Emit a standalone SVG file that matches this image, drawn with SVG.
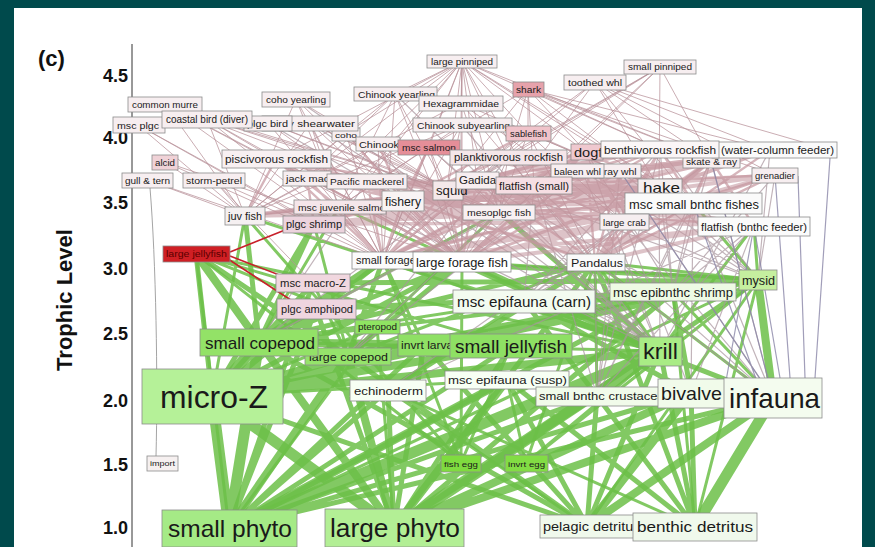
<svg xmlns="http://www.w3.org/2000/svg" width="875" height="547" viewBox="0 0 875 547">
<style>
.n rect{stroke:#8c8c8c;stroke-width:0.8}
.n text{font-family:"Liberation Sans",Arial,Helvetica,sans-serif;fill:#1a1a1a}
.ax{font-family:"Liberation Sans",Arial,Helvetica,sans-serif;font-weight:bold;fill:#111}
.g9{stroke:#6cbf48;stroke-width:11;stroke-opacity:.85;fill:none}
.g6{stroke:#6cbf48;stroke-width:8;stroke-opacity:.85;fill:none}
.g4{stroke:#6cbf48;stroke-width:5;stroke-opacity:.85;fill:none}
.g3{stroke:#6cbf48;stroke-width:3;stroke-opacity:.85;fill:none}
.m1{stroke:#b8929a;stroke-width:1;stroke-opacity:.75;fill:none}
.m2{stroke:#c4959e;stroke-width:2.4;stroke-opacity:.7;fill:none}
.m3{stroke:#c79ba4;stroke-width:4;stroke-opacity:.6;fill:none}
.mg{stroke:#a8949c;stroke-width:1.2;stroke-opacity:.7;fill:none}
.bl{stroke:#8a86a8;stroke-width:1.2;stroke-opacity:.8;fill:none}
.gy{stroke:#9a9a9a;stroke-width:.9;fill:none}
.rd{stroke:#c8202a;stroke-width:1.6;fill:none}
</style>
<rect x="0" y="0" width="875" height="547" fill="#004a4c"/>
<rect x="14" y="8" width="848" height="539" fill="#ffffff"/>
<text class="ax" x="38" y="66" font-size="22">(c)</text>
<g id="axis">
<path d="M132 44V547" stroke="#333" stroke-width="1" fill="none"/>
<g class="ax" font-size="18" text-anchor="end">
<text x="128" y="82">4.5</text>
<text x="128" y="144">4.0</text>
<text x="128" y="209">3.5</text>
<text x="128" y="275">3.0</text>
<text x="128" y="340">2.5</text>
<text x="128" y="407">2.0</text>
<text x="128" y="471">1.5</text>
<text x="128" y="534">1.0</text>
</g>
<text class="ax" font-size="22" transform="translate(72,300) rotate(-90)" text-anchor="middle">Trophic Level</text>
</g>
<g id="connectors">
<path class="g9" d="M229 528L212 396M394 528L212 396M229 528L259 342M212 396L259 342M394 528L660 351M695 527L773 398M229 528L660 351"/>
<path class="g6" d="M394 528L259 342M229 528L348 356M394 528L348 356M212 396L348 356M212 396L660 351M212 396L511 346M259 342L511 346M394 528L691 393M587 526L691 393M587 526L773 398M259 342L196 254M259 342L383 260M660 351L462 262M229 528L507 380M394 528L507 380M394 528L773 398M773 398L758 280"/>
<path class="g4" d="M212 396L196 254M348 356L196 254M259 342L314 224M212 396L314 224M259 342L245 216M348 356L383 260M660 351L383 260M259 342L313 283M212 396L316 309M229 528L424 345M394 528L424 345M212 396L424 345M229 528L691 393M229 528L773 398M695 527L691 393M587 526L507 380M587 526L660 351M587 526L212 396M229 528L388 390M394 528L388 390M394 528L758 280M212 396L758 280M695 527L597 396M587 526L597 396M348 356L511 346M660 351L499 212M259 342L462 262M597 396L524 301M773 398L524 301M394 528L597 396M229 528L673 292M394 528L673 292M229 528L511 346M394 528L511 346M587 526L259 342M587 526L348 356M695 527L507 380M695 527L660 351M587 526L424 345M229 528L597 396M394 528L595 262M229 528L316 309M394 528L316 309M229 528L313 283M212 396L313 283M212 396L383 260M212 396L462 262M212 396L673 292M259 342L595 262M348 356L673 292M348 356L462 262M695 527L595 262M691 393L673 292M691 393L524 301M388 390L595 262M383 260L758 280M316 309L673 292M313 283L758 280"/>
<path class="g3" d="M229 528L377 327M394 528L377 327M212 396L377 327M229 528L758 280M695 527L758 280M587 526L758 280M695 527L388 390M587 526L388 390M259 342L673 292M695 527L673 292M773 398L673 292M660 351L595 262M758 280L595 262M773 398L595 262M597 396L595 262M660 351L245 216M212 396L245 216M259 342L499 212M348 356L499 212M660 351L339 207M259 342L339 207M660 351L524 301M388 390L524 301M259 342L524 301M758 280L462 262M461 463L511 346M461 463L383 260M526 463L660 351M526 463L758 280M461 463L196 254M212 396L507 380M348 356L313 283M348 356L314 224M259 342L316 309M660 351L196 254M511 346L196 254M377 327L196 254M424 345L511 346M424 345L383 260M758 280L693 203M259 342L758 280M348 356L758 280M660 351L754 226M758 280L754 226M348 356L595 262M526 463L507 380M461 463L462 262M461 463L245 216M526 463L595 262M259 342L660 351M229 528L196 254"/>
<path class="mg" d="M310 123L660 351M395 94L660 351M461 125L660 351M296 99L660 351M268 123L660 351M429 147L660 351M508 157L660 351M508 157L348 356M508 157L259 342M582 171L660 351M582 171L259 342M582 171L348 356M582 171L758 280M307 178L660 351M367 181L660 351M367 181L259 342M447 190L660 351M477 180L660 351M477 180L758 280M477 180L673 292M659 188L660 351M659 188L758 280M659 188L673 292M499 212L660 351M499 212L348 356M499 212L259 342M660 149L673 292M660 149L758 280M660 149L524 301M660 149L597 396M711 160L773 398M711 160L597 396M711 160L673 292M711 160L524 301M620 171L773 398M620 171L597 396M620 171L758 280M775 175L758 280M775 175L673 292M770 150L660 351M770 150L758 280M693 203L673 292M693 203L597 396M693 203L773 398M693 203L524 301M693 203L691 393M624 222L773 398M624 222L691 393M624 222L597 396M624 222L388 390M624 222L524 301M754 226L691 393M754 226L597 396M754 226L673 292M754 226L388 390M534 185L597 396M534 185L773 398M534 185L758 280M534 185L524 301M586 152L660 351M586 152L673 292M595 262L773 398M595 262L597 396"/>
<path class="m3" d="M367 181L693 203M339 207L659 188M339 207L693 203M383 260L693 203M383 260L754 226M462 262L754 226M462 262L775 175M403 200L775 175M447 190L754 226M447 190L711 160M499 212L754 226M499 212L775 175M499 212L711 160M534 185L711 160M534 185L754 226M477 180L754 226M477 180L693 203M595 262L754 226M595 262L711 160M624 222L754 226M624 222L711 160M367 181L659 188M429 147L659 188M429 147L693 203M508 157L693 203M508 157L659 188M582 171L693 203M620 171L693 203M339 207L624 222M383 260L624 222M462 262L624 222M462 262L693 203M307 178L659 188M314 224L659 188M314 224L693 203M245 216L499 212M314 224L499 212M314 224L447 190M339 207L499 212M314 224L624 222M314 224L586 152M383 260L586 152M383 260L659 188M245 216L447 190M245 216L659 188M595 262L447 190M595 262L403 200M462 262L586 152M383 260L534 185"/>
<path class="m1" d="M462 61L395 94M462 61L461 103M462 61L461 125M462 61L378 144M462 61L429 147M462 61L346 133M462 61L528 133M462 61L508 157M462 61L447 190M462 61L477 180M462 61L534 185M462 61L367 181M462 61L307 178M462 61L462 262M462 61L383 260M462 61L659 188M462 61L499 212M462 61L693 203M462 61L660 149M462 61L586 152M462 61L711 160M462 61L339 207M462 61L276 159M660 67L711 160M660 67L508 157M660 67L477 180M660 67L659 188M660 67L447 190M660 67L534 185M660 67L462 262M528 89L586 152M528 89L528 133M528 89L659 188M528 89L660 149M528 89L711 160M528 89L508 157M528 89L429 147M528 89L447 190M528 89L534 185M528 89L775 175M528 89L770 150M595 82L447 190M595 82L659 188M595 82L693 203M595 82L775 175M595 82L477 180M595 82L770 150M595 82L462 262M595 82L711 160M595 82L830 150M395 94L447 190M395 94L383 260M395 94L462 262M395 94L245 216M395 94L339 207M395 94L307 178M461 103L693 203M461 103L624 222M461 103L499 212M461 103L245 216M461 103L595 262M296 99L245 216M296 99L383 260M296 99L462 262M296 99L339 207M296 99L447 190M165 104L245 216M165 104L383 260M165 104L307 178M165 104L367 181M165 104L447 190M165 104L462 262M138 125L245 216M138 125L383 260M138 125L314 224M207 119L245 216M207 119L383 260M207 119L462 262M207 119L447 190M207 119L307 178M207 119L499 212M268 123L447 190M268 123L462 262M268 123L499 212M268 123L383 260M310 123L447 190M310 123L462 262M310 123L245 216M310 123L383 260M310 123L499 212M310 123L339 207M346 133L447 190M346 133L383 260M346 133L245 216M346 133L462 262M461 125L383 260M461 125L245 216M461 125L462 262M461 125L447 190M461 125L339 207M528 133L693 203M528 133L447 190M528 133L477 180M528 133L499 212M528 133L624 222M528 133L659 188M528 133L595 262M378 144L383 260M378 144L462 262M378 144L447 190M378 144L245 216M429 147L499 212M429 147L447 190M429 147L462 262M429 147L383 260M429 147L339 207M508 157L499 212M508 157L462 262M508 157L383 260M165 162L383 260M165 162L245 216M165 162L462 262M147 180L245 216M147 180L383 260M214 180L314 224M214 180L313 283M214 180L245 216M339 207L383 260M339 207L245 216"/>
<path class="m2" d="M586 152L659 188M586 152L447 190M586 152L477 180M586 152L693 203M586 152L534 185M586 152L624 222M586 152L595 262M586 152L499 212M586 152L383 260M586 152L462 262M660 149L624 222M660 149L693 203M660 149L595 262M660 149L534 185M660 149L499 212M660 149L462 262M660 149L477 180M770 150L693 203M770 150L499 212M770 150L447 190M770 150L659 188M770 150L462 262M711 160L624 222M711 160L693 203M711 160L754 226M711 160L595 262M711 160L534 185M711 160L477 180M582 171L462 262M582 171L383 260M582 171L499 212M620 171L624 222M620 171L595 262M775 175L693 203M775 175L624 222M775 175L595 262M775 175L534 185M659 188L462 262M659 188L383 260M659 188L447 190M659 188L499 212M659 188L477 180M659 188L595 262M659 188L534 185M659 188L339 207M659 188L367 181M693 203L595 262M693 203L624 222M693 203L534 185M693 203L477 180M693 203L499 212M624 222L595 262M403 200L659 188M403 200L367 181M403 200L307 178M403 200L447 190M403 200L462 262M403 200L383 260M403 200L528 133M403 200L586 152M403 200L660 149M403 200L276 159M403 200L508 157M403 200L534 185M403 200L754 226M403 200L429 147M403 200L378 144M403 200L346 133M403 200L624 222M403 200L595 262M403 200L477 180M403 200L693 203M403 200L711 160M403 200L339 207M403 200L245 216M403 200L499 212M276 159L245 216M276 159L383 260M276 159L462 262M276 159L447 190M276 159L499 212M276 159L367 181M276 159L307 178M276 159L339 207M307 178L383 260M307 178L447 190M307 178L499 212M307 178L314 224M367 181L383 260M367 181L462 262M367 181L447 190M367 181L499 212M447 190L499 212M447 190L383 260M447 190L462 262M447 190L245 216M447 190L314 224M477 180L595 262M477 180L383 260M477 180L462 262M477 180L499 212M534 185L595 262M534 185L624 222M534 185L499 212"/>
<path class="bl" d="M775 175L790 378M754 226L780 378M830 158L815 378M711 160L773 398M754 226L724 392M693 203L760 390M620 171L773 398M798 176L805 378"/>
<path class="gy" d="M150 188C156 260 158 380 156 456"/>
<path class="rd" d="M230 252L290 228M230 256L300 283M228 259L300 306"/>
</g>
<g id="n-large-pinniped" class="n"><rect x="427" y="55" width="70" height="13" fill="#f7eef0"/><text x="431" y="65" font-size="9" textLength="62" lengthAdjust="spacingAndGlyphs">large pinniped</text></g>
<g id="n-small-pinniped" class="n"><rect x="624" y="60" width="72" height="14" fill="#f7eef0"/><text x="628" y="70" font-size="9" textLength="64" lengthAdjust="spacingAndGlyphs">small pinniped</text></g>
<g id="n-shark" class="n"><rect x="513" y="82" width="31" height="15" fill="#e6a2ab"/><text x="516" y="93" font-size="9" textLength="25" lengthAdjust="spacingAndGlyphs">shark</text></g>
<g id="n-toothed-whl" class="n"><rect x="564" y="75" width="62" height="15" fill="#f7eef0"/><text x="568" y="86" font-size="9" textLength="54" lengthAdjust="spacingAndGlyphs">toothed whl</text></g>
<g id="n-chinook-yearling" class="n"><rect x="354" y="87" width="83" height="14" fill="#f7eef0"/><text x="358" y="97.5" font-size="9.5" textLength="77" lengthAdjust="spacingAndGlyphs">Chinook yearling</text></g>
<g id="n-hexagrammidae" class="n"><rect x="419" y="96" width="84" height="15" fill="#f7eef0"/><text x="423" y="107" font-size="9.5" textLength="76" lengthAdjust="spacingAndGlyphs">Hexagrammidae</text></g>
<g id="n-coho-yearling" class="n"><rect x="262" y="92" width="68" height="15" fill="#f7eef0"/><text x="266" y="103" font-size="9.5" textLength="60" lengthAdjust="spacingAndGlyphs">coho yearling</text></g>
<g id="n-common-murre" class="n"><rect x="128" y="97" width="74" height="15" fill="#f7eef0"/><text x="132" y="108" font-size="9.5" textLength="66" lengthAdjust="spacingAndGlyphs">common murre</text></g>
<g id="n-msc-plgc" class="n"><rect x="113" y="117" width="52" height="16" fill="#f7eef0"/><text x="117" y="128.5" font-size="9.5" textLength="42" lengthAdjust="spacingAndGlyphs">msc plgc</text></g>
<g id="n-coho" class="n"><rect x="332" y="128" width="28" height="13" fill="#f7eef0"/><text x="335" y="138" font-size="8" textLength="22" lengthAdjust="spacingAndGlyphs">coho</text></g>
<g id="n-sooty-shearwater" class="n"><rect x="262" y="116" width="96" height="15" fill="#f7eef0"/><text x="266" y="127" font-size="9.5" textLength="89" lengthAdjust="spacingAndGlyphs">sooty shearwater</text></g>
<g id="n-plgc-bird" class="n"><rect x="244" y="116" width="48" height="15" fill="#f7eef0"/><text x="247" y="127" font-size="9.5" textLength="41" lengthAdjust="spacingAndGlyphs">plgc bird</text></g>
<g id="n-coastal-bird" class="n"><rect x="162" y="111" width="90" height="17" fill="#f7eef0"/><text x="166" y="123" font-size="10" textLength="82" lengthAdjust="spacingAndGlyphs">coastal bird (diver)</text></g>
<g id="n-chinook-subyearling" class="n"><rect x="413" y="118" width="99" height="14" fill="#f7eef0"/><text x="417" y="128.5" font-size="9.5" textLength="93" lengthAdjust="spacingAndGlyphs">Chinook subyearling</text></g>
<g id="n-sablefish" class="n"><rect x="506" y="126" width="45" height="15" fill="#f0c3ca"/><text x="510" y="137" font-size="9.5" textLength="37" lengthAdjust="spacingAndGlyphs">sablefish</text></g>
<g id="n-chinook" class="n"><rect x="356" y="137" width="44" height="14" fill="#f7eef0"/><text x="359" y="147.5" font-size="9.5" textLength="40" lengthAdjust="spacingAndGlyphs">Chinook</text></g>
<g id="n-msc-salmon" class="n"><rect x="398" y="140" width="62" height="15" fill="#e58e98"/><text x="402" y="151" font-size="9.5" textLength="54" lengthAdjust="spacingAndGlyphs">msc salmon</text></g>
<g id="n-planktivorous-rockfish" class="n"><rect x="450" y="150" width="117" height="15" fill="#f5e6e9"/><text x="454" y="161" font-size="10" textLength="109" lengthAdjust="spacingAndGlyphs">planktivorous rockfish</text></g>
<g id="n-dogfish" class="n"><rect x="571" y="144" width="32" height="16" fill="#efc8cf"/><text x="574" y="156.5" font-size="12" textLength="47" lengthAdjust="spacingAndGlyphs">dogfish</text></g>
<g id="n-skate-ray" class="n"><rect x="683" y="155" width="57" height="13" fill="#f7eef0"/><text x="686" y="165" font-size="8.5" textLength="51" lengthAdjust="spacingAndGlyphs">skate &amp; ray</text></g>
<g id="n-water-column-feeder" class="n"><rect x="712" y="142" width="125" height="16" fill="#fafafa"/><text x="721" y="153.5" font-size="10" textLength="113" lengthAdjust="spacingAndGlyphs">(water-column feeder)</text></g>
<g id="n-benthivorous-rockfish" class="n"><rect x="601" y="141" width="118" height="17" fill="#fbf6f7"/><text x="604" y="153.5" font-size="11.5" textLength="112" lengthAdjust="spacingAndGlyphs">benthivorous rockfish</text></g>
<g id="n-gray-whl" class="n"><rect x="595" y="164" width="46" height="14" fill="#f7eef0"/><text x="598" y="174.5" font-size="9" textLength="38.5" lengthAdjust="spacingAndGlyphs">gray whl</text></g>
<g id="n-baleen-whl" class="n"><rect x="551" y="164" width="53" height="14" fill="#f7eef0"/><text x="554" y="174.5" font-size="9" textLength="47" lengthAdjust="spacingAndGlyphs">baleen whl</text></g>
<g id="n-grenadier" class="n"><rect x="752" y="168" width="46" height="15" fill="#f7eef0"/><text x="755" y="179" font-size="9.5" textLength="40" lengthAdjust="spacingAndGlyphs">grenadier</text></g>
<g id="n-hake" class="n"><rect x="638" y="179" width="44" height="18" fill="#f6eef0"/><text x="643" y="193" font-size="15" textLength="37" lengthAdjust="spacingAndGlyphs">hake</text></g>
<g id="n-msc-small-bnthc-fishes" class="n"><rect x="625" y="193" width="137" height="21" fill="#fafafa"/><text x="629" y="208.5" font-size="13.5" textLength="130" lengthAdjust="spacingAndGlyphs">msc small bnthc fishes</text></g>
<g id="n-large-crab" class="n"><rect x="600" y="214" width="49" height="16" fill="#f6eef0"/><text x="603" y="225.5" font-size="9" textLength="43" lengthAdjust="spacingAndGlyphs">large crab</text></g>
<g id="n-flatfish-bnthc" class="n"><rect x="698" y="217" width="112" height="19" fill="#fbfbfb"/><text x="701" y="230.5" font-size="11.5" textLength="106" lengthAdjust="spacingAndGlyphs">flatfish (bnthc feeder)</text></g>
<g id="n-alcid" class="n"><rect x="152" y="155" width="26" height="15" fill="#f0d2d7"/><text x="155" y="166" font-size="9" textLength="20" lengthAdjust="spacingAndGlyphs">alcid</text></g>
<g id="n-gull-tern" class="n"><rect x="122" y="173" width="51" height="15" fill="#f7eef0"/><text x="125" y="184" font-size="9" textLength="45" lengthAdjust="spacingAndGlyphs">gull &amp; tern</text></g>
<g id="n-storm-petrel" class="n"><rect x="183" y="173" width="62" height="15" fill="#f7eef0"/><text x="186" y="184" font-size="9" textLength="56" lengthAdjust="spacingAndGlyphs">storm-petrel</text></g>
<g id="n-piscivorous-rockfish" class="n"><rect x="222" y="150" width="109" height="18" fill="#f8f0f2"/><text x="225" y="163" font-size="11.5" textLength="103" lengthAdjust="spacingAndGlyphs">piscivorous rockfish</text></g>
<g id="n-jack-mackerel" class="n"><rect x="283" y="171" width="48" height="15" fill="#f7eef0"/><text x="286" y="182" font-size="9.5" textLength="67" lengthAdjust="spacingAndGlyphs">jack mackerel</text></g>
<g id="n-pacific-mackerel" class="n"><rect x="327" y="174" width="80" height="15" fill="#f7eef0"/><text x="330" y="185" font-size="9.5" textLength="74" lengthAdjust="spacingAndGlyphs">Pacific mackerel</text></g>
<g id="n-msc-juvenile-salmon" class="n"><rect x="294" y="200" width="92" height="14" fill="#f5e6ea"/><text x="298" y="210.5" font-size="9" textLength="93" lengthAdjust="spacingAndGlyphs">msc juvenile salmon</text></g>
<g id="n-fishery" class="n"><rect x="382" y="191" width="42" height="20" fill="#f8f3f4"/><text x="385" y="205.5" font-size="13" textLength="36" lengthAdjust="spacingAndGlyphs">fishery</text></g>
<g id="n-squid" class="n"><rect x="433" y="181" width="30" height="19" fill="#f4e8ea"/><text x="436" y="195" font-size="12" textLength="31.5" lengthAdjust="spacingAndGlyphs">squid</text></g>
<g id="n-gadidae" class="n"><rect x="456" y="172" width="43" height="17" fill="#f7eef0"/><text x="459" y="184" font-size="10" textLength="43.5" lengthAdjust="spacingAndGlyphs">Gadidae</text></g>
<g id="n-flatfish-small" class="n"><rect x="496" y="177" width="76" height="17" fill="#f6dee3"/><text x="499" y="189.5" font-size="10.5" textLength="70" lengthAdjust="spacingAndGlyphs">flatfish (small)</text></g>
<g id="n-juv-fish" class="n"><rect x="225" y="207" width="40" height="18" fill="#f5f0f1"/><text x="228" y="219.5" font-size="10" textLength="34" lengthAdjust="spacingAndGlyphs">juv fish</text></g>
<g id="n-plgc-shrimp" class="n"><rect x="283" y="216" width="62" height="17" fill="#ecd3dd"/><text x="286" y="228" font-size="10" textLength="56" lengthAdjust="spacingAndGlyphs">plgc shrimp</text></g>
<g id="n-mesoplgc-fish" class="n"><rect x="463" y="205" width="72" height="15" fill="#f8f0f2"/><text x="467" y="216" font-size="9" textLength="64" lengthAdjust="spacingAndGlyphs">mesoplgc fish</text></g>
<g id="n-large-jellyfish" class="n"><rect x="163" y="246" width="67" height="16" fill="#cf1f24"/><text x="166" y="257" font-size="8.5" textLength="61" lengthAdjust="spacingAndGlyphs" style="fill:#5a0000">large jellyfish</text></g>
<g id="n-small-forage-fish" class="n"><rect x="352" y="252" width="63" height="17" fill="#fbfbfb"/><text x="356" y="264" font-size="10" textLength="80" lengthAdjust="spacingAndGlyphs">small forage fish</text></g>
<g id="n-large-forage-fish" class="n"><rect x="413" y="252" width="98" height="20" fill="#ffffff"/><text x="416" y="266.5" font-size="13" textLength="92" lengthAdjust="spacingAndGlyphs">large forage fish</text></g>
<g id="n-pandalus" class="n"><rect x="567" y="254" width="58" height="17" fill="#fafafa"/><text x="571" y="266.5" font-size="11" textLength="52" lengthAdjust="spacingAndGlyphs">Pandalus</text></g>
<g id="n-msc-macro-z" class="n"><rect x="276" y="274" width="74" height="18" fill="#f1d7df"/><text x="280" y="286.5" font-size="10" textLength="66" lengthAdjust="spacingAndGlyphs">msc macro-Z</text></g>
<g id="n-msc-epifauna-carn" class="n"><rect x="453" y="290" width="142" height="23" fill="#f3fbf0"/><text x="457" y="306.5" font-size="15" textLength="134" lengthAdjust="spacingAndGlyphs">msc epifauna (carn)</text></g>
<g id="n-msc-epibnthc-shrimp" class="n"><rect x="610" y="283" width="126" height="18" fill="#eefae4"/><text x="613" y="296.5" font-size="12" textLength="120" lengthAdjust="spacingAndGlyphs">msc epibnthc shrimp</text></g>
<g id="n-mysid" class="n"><rect x="739" y="270" width="38" height="20" fill="#c5ef9f"/><text x="742" y="284.5" font-size="12" textLength="33" lengthAdjust="spacingAndGlyphs">mysid</text></g>
<g id="n-plgc-amphipod" class="n"><rect x="277" y="299" width="79" height="20" fill="#efd5df"/><text x="281" y="312.5" font-size="10" textLength="72" lengthAdjust="spacingAndGlyphs">plgc amphipod</text></g>
<g id="n-pteropod" class="n"><rect x="355" y="320" width="45" height="14" fill="#8fe462"/><text x="358" y="330" font-size="8.5" textLength="39" lengthAdjust="spacingAndGlyphs">pteropod</text></g>
<g id="n-large-copepod" class="n"><rect x="305" y="348" width="86" height="17" fill="#95e36b"/><text x="309" y="360.5" font-size="11" textLength="79" lengthAdjust="spacingAndGlyphs">large copepod</text></g>
<g id="n-small-copepod" class="n"><rect x="200" y="329" width="118" height="27" fill="#93e267"/><text x="205" y="348.5" font-size="17" textLength="110" lengthAdjust="spacingAndGlyphs">small copepod</text></g>
<g id="n-invrt-larvae" class="n"><rect x="398" y="334" width="55" height="22" fill="#8fe065"/><text x="401" y="349" font-size="10.5" textLength="59" lengthAdjust="spacingAndGlyphs">invrt larvae</text></g>
<g id="n-small-jellyfish" class="n"><rect x="450" y="334" width="122" height="24" fill="#8ee064"/><text x="455" y="352.5" font-size="19" textLength="112" lengthAdjust="spacingAndGlyphs">small jellyfish</text></g>
<g id="n-krill" class="n"><rect x="639" y="337" width="43" height="29" fill="#a9ec85"/><text x="643" y="359" font-size="22" textLength="35" lengthAdjust="spacingAndGlyphs">krill</text></g>
<g id="n-micro-z" class="n"><rect x="142" y="369" width="141" height="55" fill="#b5f198"/><text x="160" y="408" font-size="32" textLength="108" lengthAdjust="spacingAndGlyphs">micro-Z</text></g>
<g id="n-echinoderm" class="n"><rect x="350" y="380" width="76" height="21" fill="#f7fff4"/><text x="354" y="394.5" font-size="11" textLength="69" lengthAdjust="spacingAndGlyphs">echinoderm</text></g>
<g id="n-msc-epifauna-susp" class="n"><rect x="445" y="371" width="124" height="18" fill="#f7fff4"/><text x="448" y="384" font-size="11.5" textLength="119" lengthAdjust="spacingAndGlyphs">msc epifauna (susp)</text></g>
<g id="n-small-bnthc-crustacean" class="n"><rect x="536" y="387" width="124" height="19" fill="#f1fbea"/><text x="539" y="400" font-size="10.5" textLength="133" lengthAdjust="spacingAndGlyphs">small bnthc crustacean</text></g>
<g id="n-bivalve" class="n"><rect x="658" y="379" width="67" height="29" fill="#f1fbea"/><text x="661" y="400" font-size="19" textLength="61" lengthAdjust="spacingAndGlyphs">bivalve</text></g>
<g id="n-infauna" class="n"><rect x="724" y="378" width="98" height="40" fill="#f4fcef"/><text x="729" y="408" font-size="28" textLength="91" lengthAdjust="spacingAndGlyphs">infauna</text></g>
<g id="n-import" class="n"><rect x="147" y="456" width="31" height="15" fill="#f6f0f0"/><text x="150" y="466" font-size="7.5" textLength="25" lengthAdjust="spacingAndGlyphs">import</text></g>
<g id="n-fish-egg" class="n"><rect x="441" y="455" width="40" height="17" fill="#7fdc3f"/><text x="444" y="466.5" font-size="8" textLength="34" lengthAdjust="spacingAndGlyphs">fish egg</text></g>
<g id="n-invrt-egg" class="n"><rect x="505" y="455" width="43" height="17" fill="#82dd44"/><text x="508" y="466.5" font-size="8" textLength="37" lengthAdjust="spacingAndGlyphs">invrt egg</text></g>
<g id="n-small-phyto" class="n"><rect x="162" y="510" width="135" height="37" fill="#a5ea86"/><text x="168" y="537" font-size="24" textLength="124" lengthAdjust="spacingAndGlyphs">small phyto</text></g>
<g id="n-large-phyto" class="n"><rect x="325" y="509" width="139" height="38" fill="#b3ef95"/><text x="330" y="537" font-size="26" textLength="130" lengthAdjust="spacingAndGlyphs">large phyto</text></g>
<g id="n-pelagic-detritus" class="n"><rect x="540" y="515" width="95" height="23" fill="#f0f9ec"/><text x="543" y="531" font-size="12" textLength="97.5" lengthAdjust="spacingAndGlyphs">pelagic detritus</text></g>
<g id="n-benthic-detritus" class="n"><rect x="633" y="513" width="124" height="28" fill="#f0f9ec"/><text x="637" y="532" font-size="14" textLength="116" lengthAdjust="spacingAndGlyphs">benthic detritus</text></g>
</svg>
